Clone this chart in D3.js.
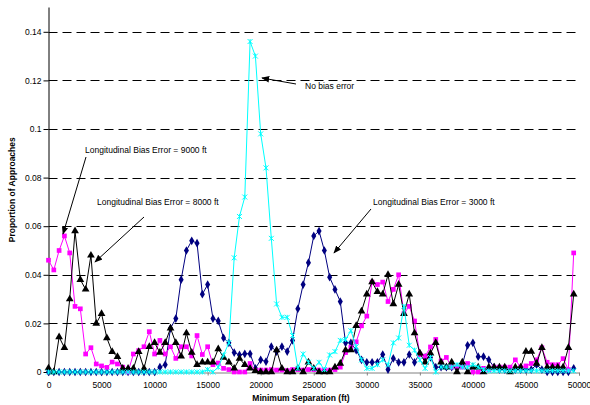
<!DOCTYPE html>
<html>
<head>
<meta charset="utf-8">
<script src="https://cdn.jsdelivr.net/npm/d3@7"></script>
<style>
  body { margin: 0; background: #fff; }
  text { font-family: "Liberation Sans", Arial, sans-serif; }
</style>
</head>
<body>
<div id="chart"></div>
<script>
// separation bins, every 500 ft from 0 to 49500
const separation = d3.range(0, 50000, 500);

const xTicks = [0, 5000, 10000, 15000, 20000, 25000, 30000, 35000, 40000, 45000, 50000];
const yTicks = [0, 0.02, 0.04, 0.06, 0.08, 0.1, 0.12, 0.14];

// longitudinal bias error = 3000 ft
const bias3000 = [
  0, 0, 0, 0, 0, 0, 0, 0, 0, 0,
  0, 0, 0, 0, 0, 0, 0, 0, 0, 0,
  0, 0.002, 0.003, 0.018, 0.022, 0.038, 0.050, 0.054, 0.053, 0.032,
  0.036, 0.022, 0.021, 0.014, 0.012, 0.008, 0.007, 0.0075, 0.0075, 0.0015,
  0.005, 0.0043, 0.0104, 0.0084, 0.0104, 0.0084, 0.013, 0.026, 0.036, 0.045,
  0.056, 0.058, 0.050, 0.039, 0.034, 0.029, 0.012, 0.012, 0.009, 0.005,
  0.004, 0.004, 0.004, 0.0072, 0.001, 0.0056, 0.004, 0.004, 0.0072, 0.004,
  0.0077, 0.006, 0.006, 0.002, 0.002, 0.002, 0.002, 0.002, 0.003, 0.011,
  0.012, 0.0063, 0.0063, 0.005, 0.002, 0.001, 0.001, 0.001, 0.001, 0.001,
  0.001, 0.001, 0.003, 0.001, 0, 0, 0, 0, 0, 0.0015
];

// longitudinal bias error = 9000 ft
const bias9000 = [
  0.046, 0.042, 0.050, 0.056, 0.049, 0.027, 0.026, 0.0074, 0.010, 0.0033,
  0.0025, 0.0019, 0.0041, 0.0033, 0.002, 0, 0.0074, 0.0088, 0.0104, 0.0166,
  0.0074, 0.013, 0.0074, 0.0104, 0.0056, 0.0104, 0.0104, 0.0066, 0.015, 0.0072,
  0.0104, 0.003, 0.0037, 0.0015, 0.001, 0, 0, 0, 0.0035, 0.0006,
  0.0008, 0.0008, 0.001, 0.0008, 0.0008, 0.0006, 0.001, 0.001, 0.0008, 0.001,
  0.001, 0.0008, 0.0008, 0.0008, 0.001, 0.002, 0.008, 0.0102, 0.0124, 0.019,
  0.023, 0.037, 0.036, 0.037, 0.029, 0.034, 0.040, 0.024, 0.027, 0.021,
  0.0072, 0.0065, 0.0103, 0.0134, 0.0045, 0.006, 0.002, 0.002, 0.002, 0.0035,
  0, 0, 0.0015, 0.001, 0.002, 0.002, 0.002, 0.002, 0.005, 0.002,
  0.0025, 0.0035, 0.005, 0.010, 0.004, 0.003, 0.003, 0.0055, 0.001, 0.049
];

// longitudinal bias error = 8000 ft
const bias8000 = [
  0.0016, 0, 0.0144, 0.010, 0.030, 0.058, 0.038, 0.034, 0.048, 0.020,
  0.024, 0.014, 0.0083, 0.0063, 0.0014, 0.0014, 0.0014, 0.0083, 0.0014, 0.0104,
  0.012, 0.008, 0.012, 0.018, 0.012, 0.0065, 0.016, 0.008, 0.003, 0.004,
  0.004, 0.004, 0.0095, 0.006, 0.004, 0.0015, 0.0055, 0.003, 0.0015, 0.0005,
  0, 0, 0, 0.009, 0.0015, 0, 0, 0.0015, 0, 0.004,
  0.0015, 0, 0, 0, 0.002, 0.0035, 0.009, 0.009, 0.019, 0.025,
  0.032, 0.037, 0.033, 0.032, 0.040, 0.028, 0.036, 0.024, 0.032, 0.016,
  0.0077, 0.004, 0.0077, 0.012, 0.004, 0.002, 0.004, 0, 0.004, 0,
  0.002, 0.002, 0, 0.002, 0.002, 0.002, 0.002, 0, 0.002, 0.002,
  0.0084, 0.0084, 0.0035, 0.010, 0.002, 0.002, 0.002, 0.002, 0.010, 0.032
];

// no bias error
const noBias = [
  0, 0, 0, 0, 0, 0, 0, 0, 0, 0,
  0, 0, 0, 0, 0, 0, 0, 0, 0, 0,
  0, 0, 0, 0, 0, 0, 0, 0, 0, 0,
  0.001, 0, 0.002, 0.007, 0.012, 0.047, 0.064, 0.072, 0.136, 0.130,
  0.098, 0.084, 0.055, 0.028, 0.0225, 0.0225, 0.015, 0.0015, 0.0074, 0.004,
  0.0015, 0.004, 0.001, 0.007, 0.0084, 0.013, 0.0134, 0.017, 0.0104, 0.005,
  0.0015, 0.0015, 0.003, 0.005, 0.003, 0.012, 0.014, 0.027, 0.011, 0.009,
  0.005, 0.0015, 0.006, 0, 0.002, 0.002, 0.002, 0.003, 0.002, 0.002,
  0.003, 0.002, 0.001, 0.0005, 0.0005, 0.0005, 0.0005, 0.0005, 0.0005, 0.0005,
  0.0005, 0.0005, 0.0005, 0.0005, 0.0005, 0.0005, 0.0005, 0.0005, 0.0005, 0.0005
];

const width = 590, height = 405;
const margin = { top: 7.5, right: 11, bottom: 33, left: 48.5 };

const svg = d3.select('#chart')
              .append('svg')
              .attr('width', width)
              .attr('height', height);

const x = d3.scaleLinear()
            .domain([0, 50000])
            .range([margin.left, width - margin.right]);

const y = d3.scaleLinear()
            .domain([0, 0.15])
            .range([height - margin.bottom, margin.top]);

// dashed gridlines
svg.append('g')
   .selectAll('line')
   .data(yTicks.filter(d => d > 0))
   .enter()
   .append('line')
   .attr('x1', x(0))
   .attr('x2', x(50000))
   .attr('y1', d => Math.round(y(d)) + 0.5)
   .attr('y2', d => Math.round(y(d)) + 0.5)
   .attr('stroke', '#000')
   .attr('stroke-dasharray', '9,5');

// x axis
const xAxis = svg.append('g')
                 .attr('transform', `translate(0, ${Math.round(y(0)) + 0.5})`)
                 .call(d3.axisBottom(x).tickValues(xTicks).tickSize(3).tickPadding(6).tickFormat(d3.format('d')));
xAxis.select('.domain').attr('stroke', '#808080');
xAxis.selectAll('.tick line').attr('stroke', '#808080');
xAxis.selectAll('text').attr('font-size', '8.5px').attr('fill', '#000');

// y axis
const yAxis = svg.append('g')
                 .attr('transform', `translate(${margin.left}, 0)`)
                 .call(d3.axisLeft(y).tickValues(yTicks).tickSize(5).tickPadding(2).tickFormat(d => d === 0 ? '0' : String(+d.toFixed(2))));
yAxis.select('.domain').attr('d', `M0.5,${margin.top}V${Math.round(y(0)) + 0.5}`).attr('stroke', '#000');
yAxis.selectAll('text').attr('font-size', '8.5px').attr('fill', '#000');

// series
const series = [
  { values: bias3000, color: '#000080', marker: 'diamond' },
  { values: bias9000, color: '#ff00ff', marker: 'square' },
  { values: bias8000, color: '#000000', marker: 'triangle' },
  { values: noBias,   color: '#00ffff', marker: 'cross' }
];

const line = d3.line()
               .x((d, i) => x(separation[i]))
               .y(d => y(d));

const symbols = {
  diamond: d3.symbol().type(d3.symbolDiamond).size(22),
  square: d3.symbol().type(d3.symbolSquare).size(22),
  triangle: d3.symbol().type(d3.symbolTriangle).size(26)
};

series.forEach(s => {
  const g = svg.append('g');
  g.append('path')
   .attr('d', line(s.values))
   .attr('fill', 'none')
   .attr('stroke', s.color)
   .attr('stroke-width', 1);

  const pts = g.selectAll('.pt')
               .data(s.values)
               .enter()
               .append('g')
               .attr('transform', (d, i) => `translate(${x(separation[i])}, ${y(d)})`);

  if (s.marker === 'cross') {
    pts.append('path')
       .attr('d', 'M-2.5,-2.5L2.5,2.5M-2.5,2.5L2.5,-2.5M0,-2.5V2.5')
       .attr('stroke', s.color)
       .attr('stroke-width', 1)
       .attr('fill', 'none');
  } else {
    pts.append('path')
       .attr('d', symbols[s.marker])
       .attr('fill', s.color);
  }
});

// axis titles
svg.append('text')
   .attr('x', 301)
   .attr('y', 401)
   .attr('text-anchor', 'middle')
   .attr('font-size', '8.5px')
   .attr('font-weight', 'bold')
   .text('Minimum Separation (ft)');

svg.append('text')
   .attr('transform', `translate(15, ${(margin.top + y(0)) / 2}) rotate(-90)`)
   .attr('text-anchor', 'middle')
   .attr('font-size', '8.5px')
   .attr('font-weight', 'bold')
   .text('Proportion of Approaches');

// annotations
svg.append('defs')
   .append('marker')
   .attr('id', 'arrow')
   .attr('viewBox', '0 0 10 10')
   .attr('refX', 9)
   .attr('refY', 5)
   .attr('markerWidth', 8)
   .attr('markerHeight', 8)
   .attr('orient', 'auto')
   .append('path')
   .attr('d', 'M0,1L10,5L0,9z')
   .attr('fill', '#000');

const notes = [
  { label: 'No bias error', tx: 305, ty: 89, from: [296, 84], to: [262, 78] },
  { label: 'Longitudinal Bias Error = 9000 ft', tx: 85, ty: 153, from: [86, 157], to: [63, 234] },
  { label: 'Longitudinal Bias Error = 8000 ft', tx: 97, ty: 205, from: [144, 217], to: [95, 262] },
  { label: 'Longitudinal Bias Error = 3000 ft', tx: 373, ty: 205, from: [371, 209], to: [334, 253] }
];

notes.forEach(n => {
  svg.append('text')
     .attr('x', n.tx)
     .attr('y', n.ty)
     .attr('font-size', '8.5px')
     .text(n.label);
  svg.append('line')
     .attr('x1', n.from[0])
     .attr('y1', n.from[1])
     .attr('x2', n.to[0])
     .attr('y2', n.to[1])
     .attr('stroke', '#000')
     .attr('stroke-width', 1)
     .attr('marker-end', 'url(#arrow)');
});
</script>
</body>
</html>
